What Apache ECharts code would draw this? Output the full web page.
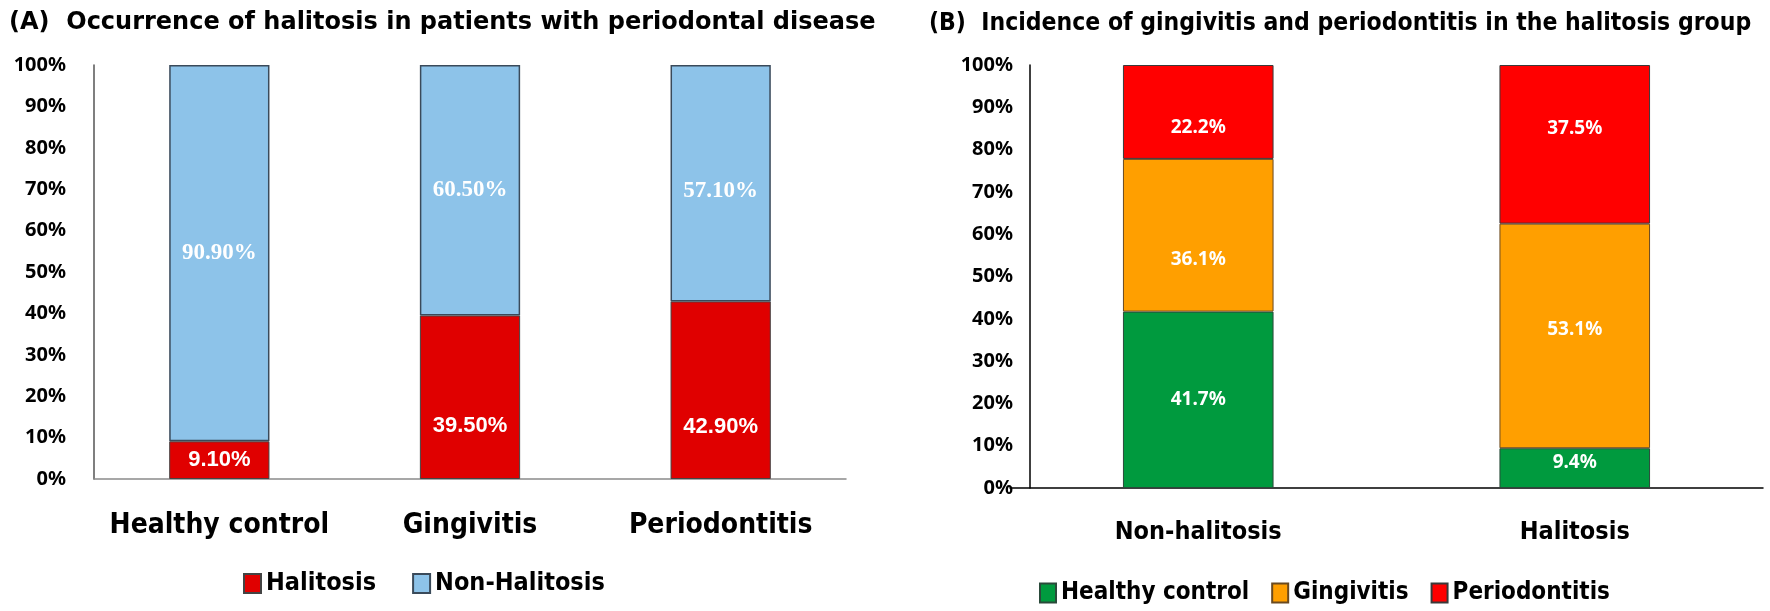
<!DOCTYPE html>
<html>
<head>
<meta charset="utf-8">
<script src="https://cdn.jsdelivr.net/npm/echarts@6/dist/echarts.min.js"></script>
<style>html,body{margin:0;padding:0;background:#fff;}#c{width:1770px;height:611px;}</style>
</head>
<body>
<div id="c"></div>
<script>
const catsA = ['Healthy control', 'Gingivitis', 'Periodontitis'];
const halitosisA = [9.1, 39.5, 42.9];
const nonHalitosisA = [90.9, 60.5, 57.1];
const catsB = ['Non-halitosis', 'Halitosis'];
const healthyB = [41.7, 9.4];
const gingivitisB = [36.1, 53.1];
const periodontitisB = [22.2, 37.5];
const titleA = '(A)  Occurrence of halitosis in patients with periodontal disease';
const titleB = '(B)  Incidence of gingivitis and periodontitis in the halitosis group';

const fontA = '"Noto Sans", "DejaVu Sans", sans-serif';
const fontWide = '"DejaVu Sans", "Noto Sans", sans-serif';
const fontNarrow = '"Liberation Sans Narrow", "DejaVu Sans Condensed", "Roboto", sans-serif';
const fontSansB = '"Liberation Sans", Arial, sans-serif';
const fontSerif = '"Liberation Serif", "DejaVu Serif", serif';

const chart = echarts.init(document.getElementById('c'));

function lbl(dec, family, size) {
  return {
    show: true, position: 'inside', color: '#fff', fontWeight: 'bold',
    fontSize: size, fontFamily: family,
    formatter: p => p.value.toFixed(dec) + '%'
  };
}
// per-bar label nudges (styling only, applied to the values from the arrays)
function nudge(values, offsets) {
  return values.map((v, i) => offsets[i] ? { value: v, label: { offset: [0, offsets[i]] } } : v);
}
const yAx = (gi, lineColor, margin, offset) => ({
  type: 'value', gridIndex: gi, min: 0, max: 100, interval: 10, offset: offset,
  axisLine: { show: true, lineStyle: { color: lineColor, width: 1.5 } },
  axisTick: { show: false }, splitLine: { show: false },
  axisLabel: { formatter: '{value}%', color: '#000', fontWeight: 'bold', fontSize: 20, fontFamily: fontA, margin: margin }
});

chart.setOption({
  animation: false,
  title: [
    { text: titleA, left: 4, top: 6, textStyle: { fontSize: 24, fontWeight: 'bold', color: '#000', fontFamily: fontWide } },
    { text: titleB, left: 924, top: 6, textStyle: { fontSize: 24.5, fontWeight: 'bold', color: '#000', fontFamily: fontNarrow } }
  ],
  grid: [
    { left: 94, right: 924, top: 65, bottom: 132 },
    { left: 1010, right: 7, top: 65, bottom: 123 }
  ],
  xAxis: [
    { type: 'category', gridIndex: 0, data: catsA,
      axisLine: { lineStyle: { color: '#8a8a8a', width: 1.5 } }, axisTick: { show: false },
      axisLabel: { interval: 0, color: '#000', fontSize: 28, fontWeight: 'bold', fontFamily: fontNarrow, margin: 33 } },
    { type: 'category', gridIndex: 1, data: catsB,
      axisLine: { lineStyle: { color: '#000', width: 1.5 } }, axisTick: { show: false },
      axisLabel: { interval: 0, color: '#000', fontSize: 25, fontWeight: 'bold', fontFamily: fontNarrow, margin: 32 } }
  ],
  yAxis: [ yAx(0, '#555', 28, 0), yAx(1, '#000', 17, -20) ],
  legend: [
    { data: ['Halitosis', 'Non-Halitosis'], left: 238, top: 566, itemWidth: 17, itemHeight: 19, itemGap: 36,
      icon: 'rect', textStyle: { fontSize: 25, fontWeight: 'bold', color: '#000', fontFamily: fontNarrow } },
    { data: ['Healthy control', 'Gingivitis', 'Periodontitis'], left: 1034, top: 576, itemWidth: 16, itemHeight: 19, itemGap: 22,
      icon: 'rect', textStyle: { fontSize: 24, fontWeight: 'bold', color: '#000', fontFamily: fontNarrow } }
  ],
  series: [
    { name: 'Halitosis', type: 'bar', stack: 'a', xAxisIndex: 0, yAxisIndex: 0, data: nudge(halitosisA, [0, 29, 37]), barWidth: '40%',
      itemStyle: { color: '#E00000', borderColor: '#444', borderWidth: 1 }, label: lbl(2, fontSansB, 22) },
    { name: 'Non-Halitosis', type: 'bar', stack: 'a', xAxisIndex: 0, yAxisIndex: 0, data: nudge(nonHalitosisA, [0, 0, 8]), barWidth: '40%',
      itemStyle: { color: '#8DC3E9', borderColor: '#3a4a5a', borderWidth: 1.5 }, label: lbl(2, fontSerif, 23) },
    { name: 'Healthy control', type: 'bar', stack: 'b', xAxisIndex: 1, yAxisIndex: 1, data: nudge(healthyB, [0, -6]), barWidth: '40%',
      itemStyle: { color: '#009A3E', borderColor: '#2a4a3a', borderWidth: 1 }, label: lbl(1, fontA, 19) },
    { name: 'Gingivitis', type: 'bar', stack: 'b', xAxisIndex: 1, yAxisIndex: 1, data: nudge(gingivitisB, [24, -6]), barWidth: '40%',
      itemStyle: { color: '#FF9F00', borderColor: '#6a4a20', borderWidth: 1 }, label: lbl(1, fontA, 19) },
    { name: 'Periodontitis', type: 'bar', stack: 'b', xAxisIndex: 1, yAxisIndex: 1, data: nudge(periodontitisB, [16, -16]), barWidth: '40%',
      itemStyle: { color: '#FF0000', borderColor: '#3a3a3a', borderWidth: 1 }, label: lbl(1, fontA, 19) }
  ]
});
</script>
</body>
</html>
